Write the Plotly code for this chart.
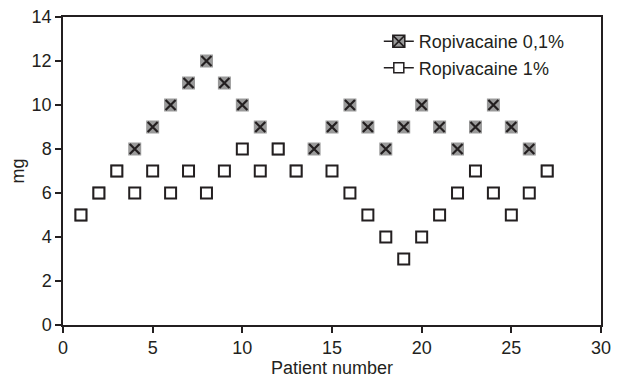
import plotly.graph_objects as go

patients = list(range(1, 28))
ropi_01 = [5, 6, 7, 8, 9, 10, 11, 12, 11, 10, 9, 8, 7, 8, 9, 10, 9, 8, 9, 10, 9, 8, 9, 10, 9, 8, 7]
ropi_1 = [5, 6, 7, 6, 7, 6, 7, 6, 7, 8, 7, 8, 7, None, 7, 6, 5, 4, 3, 4, 5, 6, 7, 6, 5, 6, 7]
series_names = ["Ropivacaine 0,1%", "Ropivacaine 1%"]

DARK = "#231f20"
GRAY = "#9a9a9a"
FONT = "Liberation Sans"

fig = go.Figure()

# Ropivacaine 0,1%: gray square with black X
fig.add_trace(go.Scatter(x=patients, y=ropi_01, mode="markers", showlegend=False,
                         marker=dict(symbol="square", size=13, color=GRAY, line=dict(width=0))))
fig.add_trace(go.Scatter(x=patients, y=ropi_01, mode="markers", showlegend=False,
                         marker=dict(symbol="x-thin", size=10, color=DARK, line=dict(width=2.2, color=DARK))))
# Ropivacaine 1%: white square with dark border
fig.add_trace(go.Scatter(x=patients, y=ropi_1, mode="markers", showlegend=False,
                         marker=dict(symbol="square", size=11, color="white", line=dict(width=2, color=DARK))))

# legend entries
fig.add_trace(go.Scatter(x=[None], y=[None], mode="lines+markers", name=series_names[0],
                         line=dict(color=DARK, width=1.5),
                         marker=dict(symbol="square-x", size=12, color=GRAY, line=dict(width=1.5, color=DARK))))
fig.add_trace(go.Scatter(x=[None], y=[None], mode="lines+markers", name=series_names[1],
                         line=dict(color=DARK, width=1.5),
                         marker=dict(symbol="square", size=10, color="white", line=dict(width=1.5, color=DARK))))

axis_common = dict(showgrid=False, zeroline=False, showline=True, linecolor=DARK, linewidth=1.5,
                   mirror=True, ticks="outside", ticklen=6, tickwidth=1.5, tickcolor=DARK,
                   automargin=False, ticklabeloverflow="allow",
                   tickfont=dict(family=FONT, size=18, color=DARK))

fig.update_xaxes(range=[0, 30], tickmode="array", tickvals=[0, 5, 10, 15, 20, 25, 30],
                 title=dict(text="Patient number", font=dict(family=FONT, size=18, color=DARK), standoff=4),
                 **axis_common)
fig.update_yaxes(range=[0, 14], tickmode="array", tickvals=[0, 2, 4, 6, 8, 10, 12, 14],
                 title=dict(text="mg", font=dict(family=FONT, size=18, color=DARK), standoff=8),
                 **axis_common)

# page has an 8px body margin, so the figure is sized to fit the 621x385 window
fig.update_layout(
    width=613, height=377,
    margin=dict(l=55, r=20, t=9, b=60),
    paper_bgcolor="white", plot_bgcolor="white",
    font=dict(family=FONT, size=18, color=DARK),
    legend=dict(x=0.587, y=0.98, xanchor="left", yanchor="top", bgcolor="rgba(0,0,0,0)",
                font=dict(family=FONT, size=18, color=DARK), itemwidth=30, tracegroupgap=0),
)

fig.write_html("out.html")
